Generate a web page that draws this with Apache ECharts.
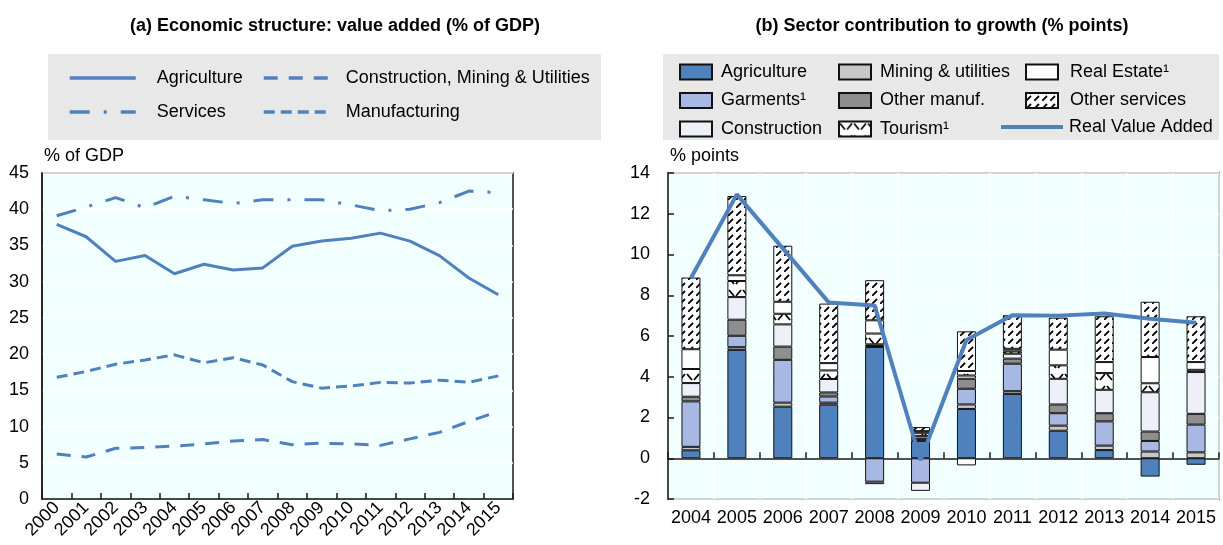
<!DOCTYPE html>
<html>
<head>
<meta charset="utf-8">
<script src="https://cdn.jsdelivr.net/npm/echarts@6/dist/echarts.min.js"></script>
<style>
  html, body { margin: 0; padding: 0; background: #fff; }
  #chart { width: 1223px; height: 545px; }
</style>
</head>
<body>
<div id="chart"></div>
<script>
// ---- Panel (a): value added by sector, % of GDP ----
const yearsA = ['2000','2001','2002','2003','2004','2005','2006','2007','2008','2009','2010','2011','2012','2013','2014','2015'];
const agricultureShare  = [37.9, 36.2, 32.8, 33.6, 31.1, 32.4, 31.6, 31.9, 34.9, 35.6, 36.0, 36.7, 35.6, 33.6, 30.5, 28.2];
const servicesShare     = [39.1, 40.3, 41.6, 40.2, 41.8, 41.3, 40.8, 41.3, 41.3, 41.3, 40.6, 39.8, 40.0, 40.9, 42.5, 42.3];
const constructionShare = [6.2, 5.8, 7.0, 7.1, 7.3, 7.6, 8.0, 8.2, 7.5, 7.7, 7.6, 7.4, 8.3, 9.2, 10.7, 12.1];
const manufacturingShare= [16.8, 17.6, 18.6, 19.2, 19.9, 18.8, 19.5, 18.5, 16.2, 15.3, 15.6, 16.1, 16.0, 16.4, 16.1, 17.0];
const ticksA = { min: 0, max: 45, interval: 5 };

// ---- Panel (b): sector contribution to growth, % points ----
const yearsB = ['2004','2005','2006','2007','2008','2009','2010','2011','2012','2013','2014','2015'];
const agriculture   = [0.39, 5.32, 2.53, 2.63, 5.46, 0.85, 2.42, 3.16, 1.35, 0.40, -0.90, -0.32];
const mining        = [0.17, 0.13, 0.20, 0.10, 0.05, 0.10, 0.22, 0.13, 0.25, 0.22, 0.33, 0.29];
const garments      = [2.23, 0.56, 2.10, 0.30, -1.15, -1.20, 0.77, 1.35, 0.61, 1.19, 0.52, 1.36];
const otherManuf    = [0.23, 0.79, 0.65, 0.20, 0.08, 0.15, 0.49, 0.25, 0.43, 0.40, 0.46, 0.53];
const construction  = [0.67, 1.11, 1.09, 0.66, -0.12, -0.40, 0.16, 0.24, 1.26, 1.15, 1.93, 2.05];
const tourism       = [0.69, 0.79, 0.52, 0.42, 0.53, 0.15, 0.22, 0.12, 0.66, 0.82, 0.44, 0.11];
const realEstate    = [0.97, 0.28, 0.59, 0.36, 0.65, 0.08, -0.35, 0.12, 0.77, 0.54, 1.29, 0.38];
const otherServices = [3.52, 3.89, 2.75, 2.92, 1.97, 0.20, 1.95, 1.65, 1.57, 2.25, 2.71, 2.25];
const realValueAdded= [8.85, 12.95, 10.3, 7.65, 7.5, -0.1, 5.8, 7.02, 7.0, 7.1, 6.85, 6.65];
const ticksB = { min: -2, max: 14, interval: 2 };

const FONT = '"Liberation Sans", Arial, sans-serif';
const BLUE = '#4F81BD';
const PLOT_BG = '#F2FFFF';
const BOX_BG = '#E8E8E8';
const FS = 18;

// Hatch fills for the services segments
function tile(w, h, draw) {
  const c = document.createElement('canvas');
  c.width = w; c.height = h;
  const g = c.getContext('2d');
  g.fillStyle = '#fff';
  g.fillRect(0, 0, w, h);
  g.strokeStyle = '#000';
  g.lineWidth = 1.8;
  g.lineCap = 'butt';
  draw(g);
  return { image: c, repeat: 'repeat' };
}
const denseHatch = tile(8, 8, g => {
  g.beginPath(); g.moveTo(0, 8); g.lineTo(5, 3); g.stroke();
});
const zigzagHatch = tile(14, 12, g => {
  g.beginPath(); g.moveTo(1, 2); g.lineTo(6, 8); g.stroke();
  g.beginPath(); g.moveTo(8, 8); g.lineTo(13, 2); g.stroke();
});

const barBorder = { borderColor: '#111', borderWidth: 1 };
function barSeries(name, data, color) {
  return {
    name, type: 'bar', data, stack: 'growth',
    xAxisIndex: 1, yAxisIndex: 1,
    barWidth: 19,
    itemStyle: Object.assign({ color }, barBorder),
    emphasis: { disabled: true }
  };
}
function lineSeries(name, data, type) {
  return {
    name, type: 'line', data, xAxisIndex: 0, yAxisIndex: 0,
    symbol: 'none', smooth: false,
    lineStyle: { color: BLUE, width: 3, type, cap: 'butt' },
    itemStyle: { color: BLUE },
    emphasis: { disabled: true }
  };
}

const textBase = { fontFamily: FONT, fontSize: FS, color: '#000' };

function legendCol(names, left, top, opts) {
  return Object.assign({
    data: names, orient: 'vertical', left, top, padding: 0,
    selectedMode: false,
    itemWidth: 32, itemHeight: 15, itemGap: 10.5,
    textStyle: Object.assign({}, textBase, { lineHeight: 17, padding: [0, 0, 0, 4] })
  }, opts || {});
}
// line-only legend entries: show the stroke at full width, hide the marker
function lineLegend(width) {
  return { itemStyle: { opacity: 0 }, lineStyle: { width } };
}

const option = {
  animation: false,
  backgroundColor: '#fff',
  textStyle: { fontFamily: FONT },
  title: [
    { text: '(a) Economic structure: value added (% of GDP)', left: 330, top: 12, textAlign: 'center',
      textStyle: Object.assign({}, textBase, { fontWeight: 'bold' }) },
    { text: '(b) Sector contribution to growth (% points)', left: 937, top: 12, textAlign: 'center',
      textStyle: Object.assign({}, textBase, { fontWeight: 'bold' }) }
  ],
  graphic: [
    { type: 'rect', z: 0, shape: { x: 48, y: 54, width: 553, height: 86 }, style: { fill: BOX_BG } },
    { type: 'rect', z: 0, shape: { x: 663, y: 54, width: 556, height: 86 }, style: { fill: BOX_BG } }
  ],
  legend: [
    legendCol(['Agriculture', 'Services'], 68, 69, Object.assign({
      itemWidth: 66, itemHeight: 14, itemGap: 16,
      textStyle: Object.assign({}, textBase, { lineHeight: 17, padding: [0, 0, 0, 16] }) }, lineLegend(3.5))),
    legendCol(['Construction, Mining & Utilities', 'Manufacturing'], 262, 69, Object.assign({
      itemWidth: 66, itemHeight: 14, itemGap: 16,
      textStyle: Object.assign({}, textBase, { lineHeight: 17, padding: [0, 0, 0, 11] }) }, lineLegend(3.5))),
    legendCol(['Agriculture ', 'Garments¹', 'Construction'], 679, 63, { icon: 'rect' }),
    legendCol(['Mining & utilities', 'Other manuf.', 'Tourism¹'], 838, 63, { icon: 'rect' }),
    legendCol(['Real Estate¹', 'Other services'], 1025, 63, { icon: 'rect',
      textStyle: Object.assign({}, textBase, { lineHeight: 17, padding: [0, 0, 0, 7] }) }),
    legendCol(['Real Value Added'], 999, 118, Object.assign({ itemWidth: 62,
      textStyle: Object.assign({}, textBase, { lineHeight: 17, padding: [0, 0, 0, 1] }) }, lineLegend(4)))
  ],
  grid: [
    { left: 42, right: 710, top: 173, bottom: 46, show: true, backgroundColor: PLOT_BG,
      borderColor: '#1a1a1a', borderWidth: 1.5 },
    { left: 668, right: 4, top: 173, bottom: 46, show: true, backgroundColor: PLOT_BG,
      borderColor: '#1a1a1a', borderWidth: 1.5 }
  ],
  xAxis: [
    { gridIndex: 0, type: 'category', data: yearsA, boundaryGap: true,
      axisLine: { show: true, onZero: false, lineStyle: { color: '#1a1a1a', width: 1.5 } },
      axisTick: { show: true, inside: true, length: 6, lineStyle: { color: '#1a1a1a', width: 1.5 } },
      axisLabel: Object.assign({}, textBase, { rotate: 45, margin: 6, interval: 0 }),
      splitLine: { show: false } },
    { gridIndex: 1, type: 'category', data: yearsB, boundaryGap: true, position: 'bottom',
      axisLine: { show: false, onZero: false },
      axisTick: { show: false },
      axisLabel: Object.assign({}, textBase, { margin: 10, interval: 0 }),
      splitLine: { show: true, interval: 0, lineStyle: { color: '#fff', width: 1.5 } } },
    { gridIndex: 1, type: 'category', data: yearsB, boundaryGap: true, position: 'bottom',
      axisLine: { show: true, onZero: true, lineStyle: { color: '#1a1a1a', width: 1.5 } },
      axisTick: { show: true, inside: true, length: 6, interval: 0, lineStyle: { color: '#1a1a1a', width: 1.5 } },
      axisLabel: { show: false },
      splitLine: { show: false } }
  ],
  yAxis: [
    { gridIndex: 0, type: 'value', min: ticksA.min, max: ticksA.max, interval: ticksA.interval,
      name: '% of GDP', nameLocation: 'end', nameGap: 8,
      nameTextStyle: Object.assign({}, textBase, { align: 'left', verticalAlign: 'bottom', padding: [0, 0, 0, 2] }),
      axisLine: { show: true, lineStyle: { color: '#1a1a1a', width: 1.5 } },
      axisTick: { show: false },
      axisLabel: Object.assign({}, textBase, { margin: 13 }),
      splitLine: { show: true, lineStyle: { color: '#fff', width: 1.5 } } },
    { gridIndex: 1, type: 'value', min: ticksB.min, max: ticksB.max, interval: ticksB.interval,
      name: '% points', nameLocation: 'end', nameGap: 8,
      nameTextStyle: Object.assign({}, textBase, { align: 'left', verticalAlign: 'bottom', padding: [0, 0, 0, 2] }),
      axisLine: { show: true, onZero: false, lineStyle: { color: '#1a1a1a', width: 1.5 } },
      axisTick: { show: true, inside: true, length: 6, lineStyle: { color: '#1a1a1a', width: 1.5 } },
      axisLabel: Object.assign({}, textBase, { margin: 18 }),
      splitLine: { show: true, lineStyle: { color: '#fff', width: 1.5 } } }
  ],
  series: [
    lineSeries('Agriculture', agricultureShare, 'solid'),
    lineSeries('Services', servicesShare, [20, 14, 3, 14]),
    lineSeries('Construction, Mining & Utilities', constructionShare, [14, 11]),
    lineSeries('Manufacturing', manufacturingShare, [11, 6]),

    barSeries('Agriculture ', agriculture, BLUE),
    barSeries('Mining & utilities', mining, '#C8C8C8'),
    barSeries('Garments¹', garments, '#A7B9E3'),
    barSeries('Other manuf.', otherManuf, '#8E8E8E'),
    barSeries('Construction', construction, '#EDF0F8'),
    barSeries('Tourism¹', tourism, zigzagHatch),
    barSeries('Real Estate¹', realEstate, '#FFFFFF'),
    barSeries('Other services', otherServices, denseHatch),
    { name: 'Real Value Added', type: 'line', data: realValueAdded, xAxisIndex: 1, yAxisIndex: 1,
      symbol: 'none', z: 5,
      lineStyle: { color: BLUE, width: 4 }, itemStyle: { color: BLUE },
      emphasis: { disabled: true } }
  ]
};

const chart = echarts.init(document.getElementById('chart'), null, { renderer: 'canvas' });
chart.setOption(option);
</script>
</body>
</html>
